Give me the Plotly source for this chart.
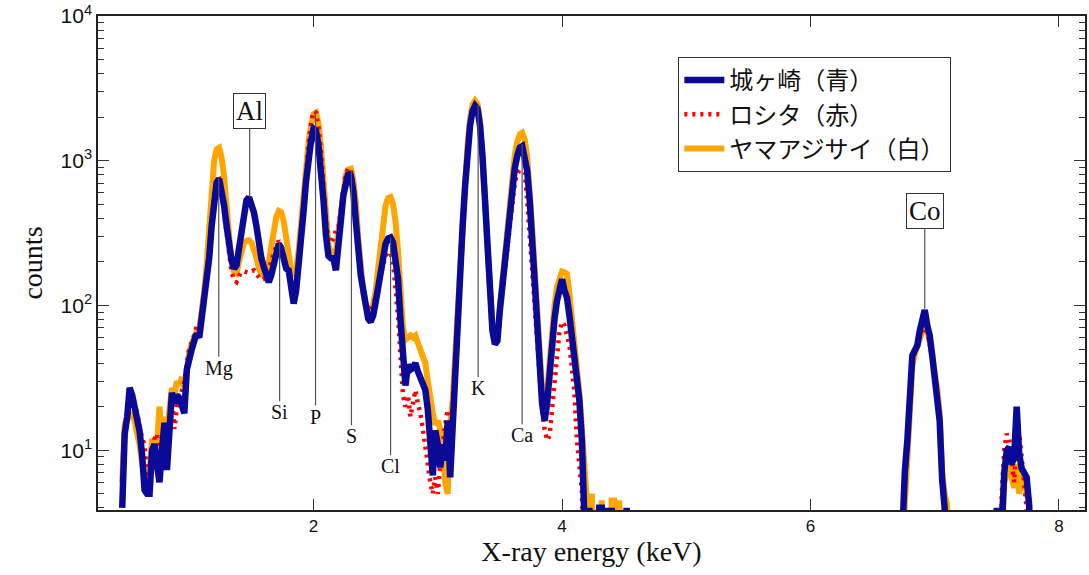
import numpy as np
import plotly.graph_objects as go

# ---------------- energy grids (keV) ----------------
E_MAIN = np.round(np.arange(0.44, 4.5601, 0.02), 2)   # 207 points
E_CO1 = np.round(np.arange(6.70, 7.1201, 0.02), 2)    # 22 points
E_CO2 = np.round(np.arange(7.46, 7.8001, 0.02), 2)    # 18 points

# ---------------- series: 城ヶ崎（青） ----------------
blue_main = [
    None, 4, 13, 17, 27, 24, 20, 16, 13.5, 9.3,
    5.3, 5.0, 5.0, 10, 11, 7.9, 6.0, 10, 15.5, 7.3,
    16, 25, 21, 24, 23, 20, 18, 36, 45, 50,
    57, 64, 60, 81, 108, 145, 212, 355, 533, 707,
    750, 620, 490, 355, 260, 205, 180, 190, 247, 340,
    440, 533, 560, 512, 440, 355, 267, 212, 184, 162,
    145, 162, 198, 240, 267, 247, 215, 180, 175, 137,
    103, 127, 180, 280, 450, 725, 1080, 1370, 1660, 1610,
    1270, 880, 533, 305, 220, 212, 212, 175, 240, 385,
    575, 725, 825, 790, 620, 385, 220, 162, 128, 96,
    81, 77, 85, 105, 132, 170, 220, 267, 290, 295,
    272, 212, 153, 79, 39, 28, 39, 36, 37, 40,
    35, 32, 29, 26, 19, 11, 6.7, 13.7, 11, 7.6,
    11, 8.5, 16, 6.5, 16, 39, 85, 175, 355, 670,
    1170, 1750, 2210, 2400, 2290, 1750, 1080, 533, 240, 118,
    67, 54, 57, 93, 137, 205, 330, 450, 670, 890,
    1080, 1230, 1260, 1080, 850, 533, 280, 150, 79, 36,
    21, 16, 21, 33, 57, 81, 108, 127, 152, 127,
    113, 85, 62, 42, 28, 22, 11.7, 4.2, 1, 4,
    1, 1, 1, 4, 4, 1, 4, 1, 4, 1,
    1, 1, 1, 1, 4, 1, None,
]
blue_co1 = [None, 1, 4, 7.2, 11.7, 26, 45, 49, 53, 67, 76, 93, 73, 62, 45, 33, 26, 16, 6.3, 4, 1, None]
blue_co2 = [None, 1, 4, 1, 4.2, 7, 10, 10.5, 8, 9, 20, 9.5, 7.5, 7, 6.5, 4.2, 1, None]

# ---------------- series: ロシタ（赤） ----------------
red_main = [
    None, 5, 12, 16, 20, 22, 21, 18, 15, 12,
    11, 6.5, 5.5, 9, 12, 13, 9, 11, 14, 12,
    17, 24, 14, 20, 22, 26, 30, 40, 50, 55,
    62, 72, 68, 85, 110, 150, 230, 400, 600, 720,
    740, 600, 450, 320, 230, 170, 150, 145, 160, 170,
    172, 170, 168, 172, 175, 165, 155, 150, 152, 165,
    180, 200, 230, 260, 280, 265, 220, 180, 160, 140,
    115, 140, 200, 320, 520, 850, 1300, 1800, 2200, 2150,
    1700, 1150, 650, 380, 290, 270, 290, 330, 340, 450,
    650, 820, 890, 870, 700, 420, 250, 170, 130, 105,
    95, 92, 100, 115, 135, 160, 190, 220, 235, 230,
    200, 140, 85, 45, 24, 20, 24, 17, 22, 26,
    21, 18, 14, 11, 8, 6, 5, 6.5, 5, 8,
    12, 15, 19, 11, 20, 40, 85, 180, 360, 680,
    1200, 1800, 2250, 2400, 2300, 1800, 1100, 550, 250, 120,
    68, 55, 58, 88, 125, 180, 270, 370, 520, 700,
    820, 860, 860, 830, 530, 300, 190, 108, 49, 28,
    19, 14, 11.7, 12.6, 20, 28, 49, 67, 77, 73,
    62, 53, 37, 25, 11.7, 7.2, 5.3, 1, None, None,
    None, None, None, None, None, None, None, None, None, None,
    None, None, None, None, None, None, None,
]
red_co1 = [None, 1, 3, 6, 11, 22, 40, 48, 55, 65, 70, 68, 65, 55, 45, 35, 25, 14, 6, 4, 1, None]
red_co2 = [None, None, None, 1, 5, 10, 13, 12, 8, 6, 12, 13, 9, 6, 4, 1, None, None]

# ---------------- series: ヤマアジサイ（白） ----------------
orange_main = [
    None, 6, 15, 17, 18, 17, 16, 13, 11, 8,
    6.5, 6, 7, 12, 9, 11, 20, 12, 17, 14,
    19, 27, 24, 30, 28, 32, 27, 40, 48, 55,
    62, 66, 68, 90, 125, 195, 360, 650, 1000, 1200,
    1230, 1050, 780, 480, 300, 200, 170, 166, 200, 245,
    272, 280, 282, 272, 245, 215, 180, 165, 162, 170,
    200, 260, 340, 410, 450, 440, 380, 290, 210, 175,
    160, 175, 240, 380, 600, 950, 1350, 1750, 2100, 2150,
    1800, 1250, 750, 400, 260, 235, 225, 235, 320, 480,
    650, 800, 870, 880, 740, 520, 290, 170, 125, 100,
    88, 85, 100, 125, 180, 270, 380, 490, 550, 560,
    500, 380, 240, 130, 70, 58, 60, 62, 60, 62,
    55, 50, 45, 40, 30, 22, 18, 15, 16, 14,
    12, 6, 5, 15, 22, 45, 95, 200, 400, 760,
    1300, 1950, 2450, 2600, 2450, 1900, 1150, 560, 250, 125,
    70, 56, 60, 98, 150, 230, 380, 540, 800, 1100,
    1350, 1520, 1560, 1400, 1050, 650, 340, 180, 95, 45,
    26, 20, 25, 40, 70, 100, 135, 160, 172, 170,
    165, 120, 85, 55, 35, 25, 14, 8, 4.5, 1,
    5, 1, 1, 1, 4.5, 1, 1, 1, 4.5, 4.5,
    1, 4.5, 1, 1, 1, 1, None,
]
orange_co1 = [None, 1, 2, 5, 9, 20, 38, 46, 52, 62, 70, 75, 68, 58, 46, 34, 27, 18, 7, 5, 4.2, 1]
orange_co2 = [None, None, None, 1, 4, 6, 7, 8, 6.5, 5.5, 8, 5, 6, 7, 5, 4.5, 1, None]

# ---------------- element labels ----------------
label_names = ["Mg", "Al", "Si", "P", "S", "Cl", "K", "Ca", "Co"]
label_energy = [1.237, 1.486, 1.727, 2.016, 2.305, 2.62, 3.325, 3.679, 6.92]
label_peak = [750, 560, 272, 2200, 850, 295, 2450, 1300, 95]          # counts where the line meets the peak
label_pos = [36.8, 2210, 18.3, 17.1, 12.5, 7.76, 26.8, 12.7, 452]     # counts level of the label centre
label_boxed = [False, True, False, False, False, False, False, False, True]

# ---------------- tick labels ----------------
y_tickvals = [10, 100, 1000, 10000]
y_ticktext = ["10<sup>1</sup>", "10<sup>2</sup>", "10<sup>3</sup>", "10<sup>4</sup>"]
x_tickvals = [2, 4, 6, 8]

series_names = ["城ヶ崎（青）", "ロシタ（赤）", "ヤマアジサイ（白）"]

x_all = list(E_MAIN) + list(E_CO1) + list(E_CO2)
assert len(blue_main) == len(E_MAIN) == len(red_main) == len(orange_main)
assert len(blue_co1) == len(E_CO1) == len(red_co1) == len(orange_co1)
assert len(blue_co2) == len(E_CO2) == len(red_co2) == len(orange_co2)

blue = blue_main + blue_co1 + blue_co2
red = red_main + red_co1 + red_co2
orange = orange_main + orange_co1 + orange_co2

fig = go.Figure()
fig.add_trace(go.Scatter(x=x_all, y=orange, mode="lines", name=series_names[2],
                         line=dict(color="#ffa500", width=6), connectgaps=False))
fig.add_trace(go.Scatter(x=x_all, y=red, mode="lines", name=series_names[1],
                         line=dict(color="#ff0000", width=4.5, dash="3px,5px"), connectgaps=False))
fig.add_trace(go.Scatter(x=x_all, y=blue, mode="lines", name=series_names[0],
                         line=dict(color="#0a0a99", width=6.5), connectgaps=False))

for name, e, pk, pos, boxed in zip(label_names, label_energy, label_peak, label_pos, label_boxed):
    fig.add_annotation(
        x=e, y=np.log10(pk), xref="x", yref="y",
        ax=e, ay=np.log10(pos), axref="x", ayref="y",
        text=name, showarrow=True, arrowhead=0, arrowwidth=1.2, arrowcolor="#555",
        font=dict(family="Liberation Serif, Times New Roman, serif", size=27 if boxed else 20, color="#111"),
        bordercolor="#333" if boxed else "rgba(0,0,0,0)", borderwidth=1 if boxed else 0,
        borderpad=2 if boxed else 0, bgcolor="white" if boxed else "rgba(0,0,0,0)",
        standoff=0, startstandoff=0,
    )

axis_common = dict(showgrid=False, zeroline=False, showline=True, linecolor="#222", linewidth=1.5,
                   mirror="ticks", ticks="inside", ticklen=11, tickwidth=1, tickcolor="#333")

fig.update_layout(
    width=1089, height=575,
    margin=dict(l=98, r=2, t=15, b=65),
    paper_bgcolor="white", plot_bgcolor="white",
    showlegend=True,
    legend=dict(x=0.588, y=0.917, xanchor="left", yanchor="top", traceorder="reversed",
                bgcolor="white", bordercolor="#333", borderwidth=1,
                font=dict(family="Noto Sans CJK JP", size=24, color="#111"),
                tracegroupgap=0, itemwidth=40),
    xaxis=dict(range=[0.265, 8.21], tickvals=x_tickvals,
               tickfont=dict(family="Liberation Sans Narrow, Liberation Sans, Arial", size=17, color="#111"),
               title=dict(text="X-ray energy (keV)", standoff=6,
                          font=dict(family="Liberation Serif, Times New Roman, serif", size=28, color="#111")),
               **axis_common),
    yaxis=dict(type="log", range=[0.587, 4], tickmode="array", tickvals=y_tickvals, ticktext=y_ticktext,
               minor=dict(ticks="inside", ticklen=6, tickcolor="#333", dtick="D1", showgrid=False),
               tickfont=dict(family="Liberation Sans, Arial", size=21, color="#111"),
               title=dict(text="counts", standoff=10,
                          font=dict(family="Liberation Serif, Times New Roman, serif", size=28, color="#111")),
               **axis_common),
)

fig.write_html("out.html")
